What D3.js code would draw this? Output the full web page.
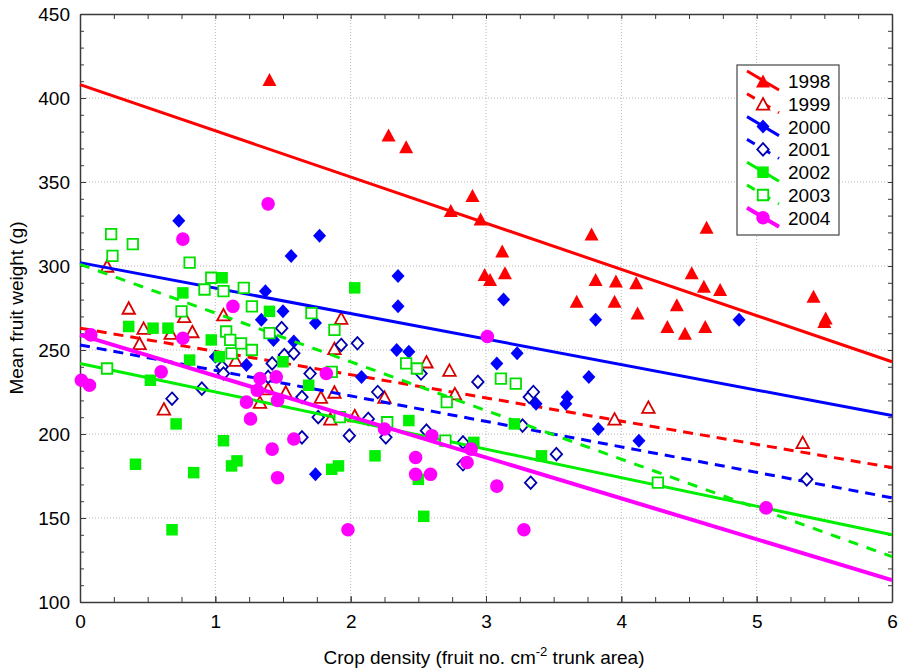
<!DOCTYPE html>
<html><head><meta charset="utf-8">
<script src="https://cdn.jsdelivr.net/npm/d3@7"></script>
<style>
body{margin:0;background:#fff}
text{font-family:"Liberation Sans",Arial,sans-serif}
</style>
</head><body>
<svg id="chart" width="899" height="670"></svg>
<script>
// ---------- data ----------
const years = ["1998","1999","2000","2001","2002","2003","2004"];
const xTickValues = [0,1,2,3,4,5,6];
const yTickValues = [100,150,200,250,300,350,400,450];

const s1998 = [[1.40,411],[2.28,378],[2.41,371],[2.74,333],[2.90,342],[2.96,328],[2.99,295],[3.03,292],[3.12,309],[3.14,296],[3.67,279],[3.78,319],[3.81,292],[3.96,291],[3.95,279],[4.11,290],[4.12,272],[4.34,264],[4.41,277],[4.47,260],[4.52,296],[4.61,288],[4.62,264],[4.63,323],[4.73,286],[5.42,282],[5.51,269],[5.50,267]];
const s1999 = [[0.20,300],[0.36,275],[0.44,254],[0.47,263],[0.62,215],[0.67,260],[0.77,270],[0.83,261],[1.06,271],[1.15,244],[1.33,219],[1.39,227],[1.52,225],[1.78,222],[1.85,209],[1.88,251],[1.88,225],[1.93,269],[2.03,211],[2.25,222],[2.56,243],[2.73,238],[2.77,224],[3.95,209],[4.20,216],[5.34,195]];
const s2000 = [[0.73,327],[1.00,246],[1.23,241],[1.34,268],[1.37,285],[1.43,256],[1.50,273],[1.56,306],[1.58,255],[1.74,266],[1.74,176],[1.77,318],[2.08,234],[2.34,250],[2.35,294],[2.35,276],[2.43,249],[3.08,242],[3.13,280],[3.23,248],[3.37,218],[3.59,218],[3.60,222],[3.76,234],[3.81,268],[3.83,203],[4.13,196],[4.87,268]];
const s2001 = [[0.68,221],[0.90,227],[1.05,240],[1.06,236],[1.39,234],[1.42,242],[1.49,263],[1.51,247],[1.58,248],[1.64,222],[1.64,198],[1.70,236],[1.76,210],[1.93,253],[1.99,199],[2.05,254],[2.13,209],[2.20,225],[2.26,198],[2.52,236],[2.56,202],[2.83,195],[2.83,182],[2.94,231],[3.27,205],[3.32,222],[3.35,225],[3.33,171],[3.52,188],[5.37,173]];
const s2002 = [[0.36,264],[0.41,182],[0.52,232],[0.54,263],[0.65,263],[0.68,143],[0.71,206],[0.76,284],[0.81,244],[0.84,177],[0.97,256],[1.03,246],[1.05,293],[1.06,196],[1.12,181],[1.16,184],[1.40,273],[1.50,243],[1.69,229],[1.86,179],[1.91,181],[2.03,287],[2.18,187],[2.43,208],[2.50,173],[2.54,151],[2.91,195],[3.21,206],[3.41,187]];
const s2003 = [[0.20,239],[0.23,319],[0.24,306],[0.39,313],[0.75,273],[0.81,302],[0.92,286],[0.97,293],[1.06,285],[1.08,261],[1.11,256],[1.12,248],[1.19,254],[1.21,287],[1.27,276],[1.27,250],[1.40,260],[1.71,272],[1.86,237],[1.88,262],[1.92,210],[2.27,207],[2.41,242],[2.49,239],[2.70,196],[2.71,219],[3.11,233],[3.22,230],[4.27,171]];
const s2004 = [[0.01,232],[0.07,229],[0.08,259],[0.60,237],[0.76,316],[0.76,257],[1.13,276],[1.23,219],[1.26,209],[1.31,226],[1.33,233],[1.39,337],[1.42,191],[1.45,234],[1.46,220],[1.46,174],[1.58,197],[1.82,236],[1.98,143],[2.25,203],[2.48,186],[2.48,176],[2.59,176],[2.60,199],[2.86,183],[2.89,191],[3.01,258],[3.08,169],[3.28,143],[5.07,156]];

// fitted regression lines: value at x = 0 and at x = 6
const fitAt0 = [408,263,302,253,242,301,259];
const fitAt6 = [243,180,211,162,140,127,113];

// ---------- styles ----------
const seriesPoints = [s1998,s1999,s2000,s2001,s2002,s2003,s2004];
const styles = [
  {shape:"tri",  fill:"#ff0000", stroke:"none",    line:"#ff0000", dash:null,   lw:3},
  {shape:"tri",  fill:"#fff",    stroke:"#d80000", line:"#ff0000", dash:"10,7", lw:3},
  {shape:"dia",  fill:"#0000ff", stroke:"none",    line:"#0000ff", dash:null,   lw:3},
  {shape:"dia",  fill:"#fff",    stroke:"#0000b0", line:"#0000ff", dash:"10,7", lw:3},
  {shape:"sq",   fill:"#00f000", stroke:"none",    line:"#00ee00", dash:null,   lw:3},
  {shape:"sq",   fill:"#fff",    stroke:"#00e000", line:"#00ee00", dash:"10,9", lw:3},
  {shape:"circ", fill:"#ff00ff", stroke:"none",    line:"#ff00ff", dash:null,   lw:4}
];
function shapePath(s, filled){
  if(s==="tri"){ const w=filled?14:12.5, h=filled?13:11.5; return `M0,${-h/2}L${w/2},${h/2}L${-w/2},${h/2}Z`; }
  if(s==="dia"){ const w=filled?13:11.5, h=filled?14:12.5; return `M0,${-h/2}L${w/2},0L0,${h/2}L${-w/2},0Z`; }
  if(s==="sq"){ const a=filled?11.5:10.5; return `M${-a/2},${-a/2}h${a}v${a}h${-a}Z`; }
  const r=6.8; return `M${r},0A${r},${r} 0 1,1 ${-r},0A${r},${r} 0 1,1 ${r},0Z`;
}

// ---------- layout ----------
const svg = d3.select("#chart");
const L=80, R=892, T=14, B=602;
const x = d3.scaleLinear().domain([0,6]).range([L,R]);
const y = d3.scaleLinear().domain([100,450]).range([B,T]);
const axisColor = "#3a3a3a";
const fontSize = 19;

// grid
const grid = svg.append("g");
grid.selectAll(".gx").data(xTickValues.slice(1,-1)).join("line")
  .attr("x1",d=>x(d)).attr("x2",d=>x(d)).attr("y1",T).attr("y2",B)
  .attr("stroke","#b8b8b8").attr("stroke-width",1).attr("stroke-dasharray","1,2");
grid.selectAll(".gy").data(yTickValues.slice(1,-1)).join("line")
  .attr("y1",d=>y(d)).attr("y2",d=>y(d)).attr("x1",L).attr("x2",R)
  .attr("stroke","#b8b8b8").attr("stroke-width",1).attr("stroke-dasharray","1,2");

// axes
const minorX = d3.range(0,6.001,0.25);
const minorY = d3.range(100,450.001,10);
function styleAxis(g){
  g.selectAll(".domain").attr("stroke",axisColor).attr("stroke-width",1.5);
  g.selectAll(".tick line").attr("stroke",axisColor).attr("stroke-width",1);
  g.selectAll("text").attr("fill","#000").attr("font-size",fontSize)
    .attr("font-family","'Liberation Sans',Arial,sans-serif");
}
svg.append("g").attr("transform",`translate(0,${B})`)
  .call(d3.axisBottom(x).tickValues(minorX).tickFormat("").tickSize(-5).tickSizeOuter(0)).call(styleAxis);
svg.append("g").attr("transform",`translate(0,${B})`)
  .call(d3.axisBottom(x).tickValues(xTickValues).tickFormat(d3.format("d")).tickSize(-6).tickSizeOuter(0).tickPadding(13)).call(styleAxis)
  .select(".domain").remove();
svg.append("g").attr("transform",`translate(0,${T})`)
  .call(d3.axisTop(x).tickValues(minorX).tickFormat("").tickSize(-5).tickSizeOuter(0)).call(styleAxis);
svg.append("g").attr("transform",`translate(${L},0)`)
  .call(d3.axisLeft(y).tickValues(minorY).tickFormat("").tickSize(-4).tickSizeOuter(0)).call(styleAxis);
svg.append("g").attr("transform",`translate(${L},0)`)
  .call(d3.axisLeft(y).tickValues(yTickValues).tickFormat(d3.format("d")).tickSize(-6).tickSizeOuter(0).tickPadding(10)).call(styleAxis)
  .select(".domain").remove();
svg.append("g").attr("transform",`translate(${R},0)`)
  .call(d3.axisRight(y).tickValues(minorY).tickFormat("").tickSize(-4).tickSizeOuter(0)).call(styleAxis);

// axis titles
svg.append("text").attr("transform",`translate(23,${(T+B)/2}) rotate(-90)`)
  .attr("text-anchor","middle").attr("font-size",fontSize).text("Mean fruit weight (g)");
const xt = svg.append("text").attr("x",484).attr("y",664).attr("text-anchor","middle").attr("font-size",fontSize);
xt.append("tspan").text("Crop density (fruit no. cm");
xt.append("tspan").attr("dy",-8).attr("font-size",13).text("-2");
xt.append("tspan").attr("dy",8).text(" trunk area)");

// series
const plot = svg.append("g");
seriesPoints.forEach((pts,i)=>{
  const st = styles[i];
  plot.append("line")
    .attr("x1",x(0)).attr("y1",y(fitAt0[i])).attr("x2",x(6)).attr("y2",y(fitAt6[i]))
    .attr("stroke",st.line).attr("stroke-width",st.lw).attr("stroke-dasharray",st.dash);
  const filled = st.stroke==="none";
  plot.append("g").selectAll("path").data(pts).join("path")
    .attr("d",shapePath(st.shape,filled))
    .attr("transform",d=>`translate(${x(d[0])},${y(d[1])})`)
    .attr("fill",st.fill).attr("stroke",st.stroke).attr("stroke-width",filled?0:1.8);
});

// legend
const lg = svg.append("g");
lg.append("rect").attr("x",737).attr("y",65).attr("width",102).attr("height",170)
  .attr("fill","#fff").attr("stroke","#444").attr("stroke-width",1.2);
years.forEach((yr,i)=>{
  const st = styles[i], cy = 81 + i*22.8;
  const filled = st.stroke==="none";
  lg.append("line").attr("x1",747).attr("y1",cy-10).attr("x2",779).attr("y2",cy+9)
    .attr("stroke",st.line).attr("stroke-width",st.lw).attr("stroke-dasharray",st.dash?"9,9":null);
  lg.append("path").attr("d",shapePath(st.shape,filled)).attr("transform",`translate(763,${cy})`)
    .attr("fill",st.fill).attr("stroke",st.stroke).attr("stroke-width",filled?0:1.8);
  lg.append("text").attr("x",788).attr("y",cy+7).attr("font-size",fontSize).text(yr);
});
</script>
</body></html>
